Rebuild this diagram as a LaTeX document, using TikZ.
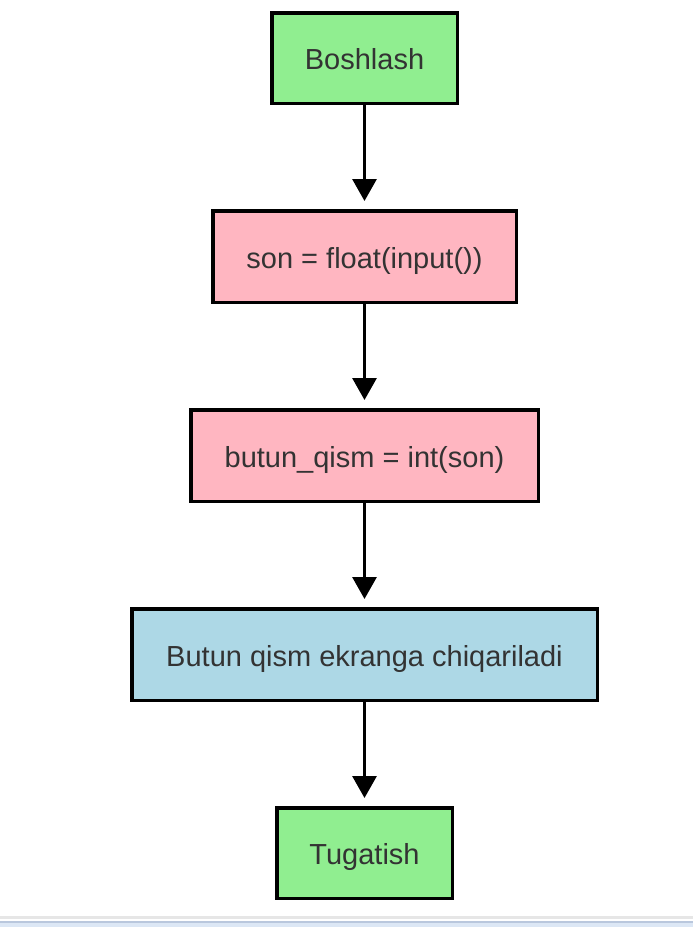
\documentclass[tikz,border=0pt]{standalone}
\usepackage{fontspec}
\setmainfont{Liberation Sans}
\usetikzlibrary{arrows.meta}
\definecolor{startgreen}{HTML}{90EE90}
\definecolor{procpink}{HTML}{FFB6C1}
\definecolor{outblue}{HTML}{ADD8E6}
\definecolor{txtgray}{HTML}{333333}
\definecolor{stripgray}{HTML}{E6E6E6}
\definecolor{stripline}{HTML}{B9C7DD}
\definecolor{stripfill}{HTML}{DCE7F5}
\tikzset{
  box/.style={draw=black, line width=3.5pt, rectangle, inner sep=0pt},
  lbl/.style={text=txtgray, font=\fontsize{29}{34}\selectfont, inner sep=0pt, anchor=base},
  flow/.style={draw=black, line width=3pt, -{Triangle[width=24pt,length=22pt]}, shorten >=8pt}
}
\begin{document}
\begin{tikzpicture}[x=1pt,y=-1pt]
\useasboundingbox (0,0) rectangle (693,927);
\fill[white] (0,0) rectangle (693,927);
\fill[stripgray] (0,916) rectangle (693,919);
\fill[stripline] (0,921) rectangle (693,923);
\fill[stripfill] (0,923) rectangle (693,927);
\node[box, fill=startgreen, minimum width=185.5pt, minimum height=90.5pt] (b1) at (364.5,58) {};
\node[box, fill=procpink, minimum width=303.5pt, minimum height=91.5pt] (b2) at (364.5,256.5) {};
\node[box, fill=procpink, minimum width=347.5pt, minimum height=91.5pt] (b3) at (364.5,455.5) {};
\node[box, fill=outblue, minimum width=465.5pt, minimum height=91.5pt] (b4) at (364.5,654.5) {};
\node[box, fill=startgreen, minimum width=175.5pt, minimum height=90.5pt] (b5) at (364.5,853) {};
\node[lbl] (t1) at (364.5,69) {Boshlash};
\node[lbl] (t2) at (364.5,268) {son = float(input())};
\node[lbl] (t3) at (364.5,467) {butun\_qism = int(son)};
\node[lbl] (t4) at (364.5,666) {Butun qism ekranga chiqariladi};
\node[lbl] (t5) at (364.5,864) {Tugatish};
\draw[flow] (b1) -- (b2);
\draw[flow] (b2) -- (b3);
\draw[flow] (b3) -- (b4);
\draw[flow] (b4) -- (b5);
\end{tikzpicture}
\end{document}
